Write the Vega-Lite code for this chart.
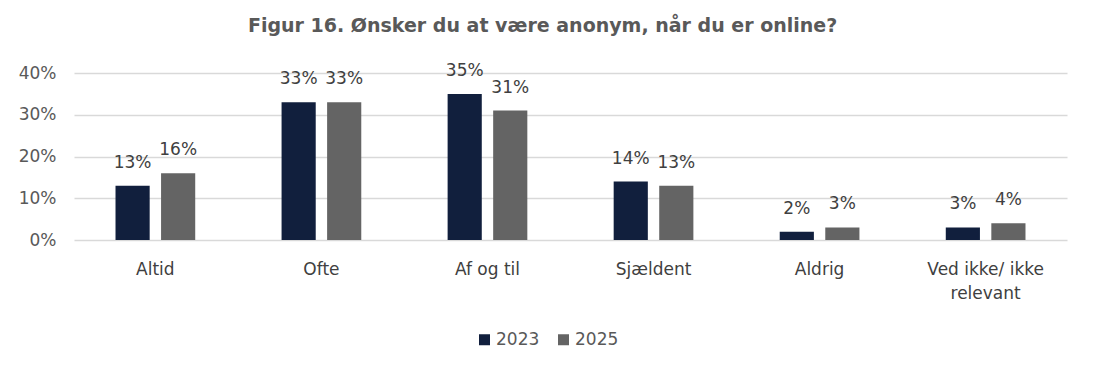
{
  "$schema": "https://vega.github.io/schema/vega-lite/v6.json",
  "width": 993,
  "height": 167,
  "padding": {"left": 18, "top": 16, "right": 28, "bottom": 5},
  "background": "white",
  "title": {
    "text": "Figur 16. Ønsker du at være anonym, når du er online?",
    "font": "DejaVu Sans",
    "fontSize": 19,
    "fontWeight": "bold",
    "color": "#595959",
    "anchor": "middle",
    "frame": "bounds",
    "offset": 26
  },
  "data": {
    "values": [
      {"kategori": "Altid", "år": "2023", "andel": 0.13},
      {"kategori": "Altid", "år": "2025", "andel": 0.16},
      {"kategori": "Ofte", "år": "2023", "andel": 0.33},
      {"kategori": "Ofte", "år": "2025", "andel": 0.33},
      {"kategori": "Af og til", "år": "2023", "andel": 0.35},
      {"kategori": "Af og til", "år": "2025", "andel": 0.31},
      {"kategori": "Sjældent", "år": "2023", "andel": 0.14},
      {"kategori": "Sjældent", "år": "2025", "andel": 0.13},
      {"kategori": "Aldrig", "år": "2023", "andel": 0.02},
      {"kategori": "Aldrig", "år": "2025", "andel": 0.03},
      {"kategori": "Ved ikke/ ikke relevant", "år": "2023", "andel": 0.03},
      {"kategori": "Ved ikke/ ikke relevant", "år": "2025", "andel": 0.04}
    ]
  },
  "encoding": {
    "x": {
      "field": "kategori",
      "type": "nominal",
      "sort": null,
      "title": null,
      "scale": {"paddingInner": 0.52, "paddingOuter": 0.25},
      "axis": {
        "labelAngle": 0,
        "ticks": false,
        "domain": false,
        "labelFont": "DejaVu Sans",
        "labelFontSize": 17,
        "labelColor": "#404040",
        "labelPadding": 21,
        "labelLineHeight": 24,
        "labelExpr": "datum.label == 'Ved ikke/ ikke relevant' ? ['Ved ikke/ ikke', 'relevant'] : datum.label"
      }
    },
    "xOffset": {
      "field": "år",
      "type": "nominal",
      "scale": {"paddingInner": 0.25}
    },
    "y": {
      "field": "andel",
      "type": "quantitative",
      "title": null,
      "scale": {"domain": [0, 0.4]},
      "axis": {
        "format": ".0%",
        "values": [0, 0.1, 0.2, 0.3, 0.4],
        "ticks": false,
        "domain": false,
        "gridColor": "#d9d9d9",
        "gridWidth": 1.5,
        "labelFont": "DejaVu Sans",
        "labelFontSize": 17,
        "labelColor": "#595959",
        "labelPadding": 18
      }
    }
  },
  "layer": [
    {
      "mark": {"type": "bar"},
      "encoding": {
        "color": {
          "field": "år",
          "type": "nominal",
          "title": null,
          "scale": {"domain": ["2023", "2025"], "range": ["#111f3d", "#646464"]},
          "legend": {
            "orient": "none",
            "legendX": 402,
            "legendY": 258,
            "direction": "horizontal",
            "symbolType": "square",
            "symbolSize": 121,
            "symbolStrokeWidth": 0,
            "labelOffset": 3,
            "labelFont": "DejaVu Sans",
            "labelFontSize": 17,
            "labelColor": "#595959",
            "columnPadding": 15
          }
        }
      }
    },
    {
      "mark": {
        "type": "text",
        "baseline": "bottom",
        "dy": -14,
        "font": "DejaVu Sans",
        "fontSize": 17,
        "color": "#404040"
      },
      "encoding": {
        "text": {"field": "andel", "type": "quantitative", "format": ".0%"}
      }
    }
  ],
  "config": {
    "view": {"stroke": null}
  }
}
